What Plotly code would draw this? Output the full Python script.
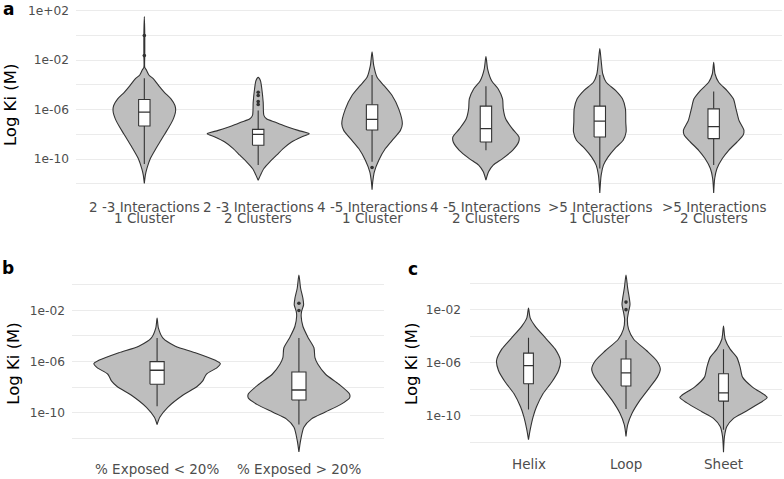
import numpy as np
import plotly.graph_objects as go

W, H = 784, 479

# ---------------- data (log10 Ki, violin half-widths in category units) ----------------
a_labels = ["2 -3 Interactions\n1 Cluster", "2 -3 Interactions\n2 Clusters",
            "4 -5 Interactions\n1 Cluster", "4 -5 Interactions\n2 Clusters",
            ">5 Interactions\n1 Cluster", ">5 Interactions\n2 Clusters"]
b_labels = ["% Exposed < 20%", "% Exposed > 20%"]
c_labels = ["Helix", "Loop", "Sheet"]

# violin profiles: log10(Ki) levels and half-width at each level
a1_log = [1.52, 0.0, -1.6, -2.58, -2.80, -3.20, -3.52, -4.06, -4.60, -5.13, -5.67, -6.07, -6.47, -6.87, -7.41, -7.95, -8.48, -9.15, -9.96, -10.76, -11.30, -11.97]
a1_hw = [0.0, 0.004, 0.004, 0.004, 0.018, 0.040, 0.080, 0.126, 0.176, 0.234, 0.269, 0.275, 0.266, 0.249, 0.217, 0.181, 0.146, 0.102, 0.053, 0.023, 0.009, 0.0]
a2_log = [-3.39, -3.66, -4.33, -5.40, -6.47, -6.74, -7.01, -7.33, -7.68, -7.95, -8.21, -8.62, -9.15, -9.69, -10.22, -10.76, -11.30, -11.72]
a2_hw = [0.0, 0.020, 0.032, 0.044, 0.050, 0.073, 0.146, 0.234, 0.351, 0.448, 0.380, 0.293, 0.219, 0.161, 0.102, 0.050, 0.020, 0.0]
a3_log = [-1.32, -2.45, -3.39, -4.06, -4.86, -5.94, -7.14, -7.68, -8.35, -9.15, -10.09, -11.03, -11.83, -12.48]
a3_hw = [0.0, 0.015, 0.044, 0.105, 0.176, 0.234, 0.266, 0.249, 0.190, 0.117, 0.059, 0.020, 0.006, 0.0]
a4_log = [-1.70, -2.72, -3.66, -4.33, -5.13, -5.94, -6.74, -7.54, -8.21, -8.62, -9.29, -9.96, -10.49, -11.03, -11.70]
a4_hw = [0.0, 0.015, 0.050, 0.108, 0.146, 0.152, 0.173, 0.231, 0.290, 0.287, 0.234, 0.146, 0.064, 0.023, 0.0]
a5_log = [-1.06, -2.05, -3.12, -3.79, -4.46, -5.13, -5.94, -7.01, -7.81, -8.48, -9.15, -9.82, -10.49, -11.30, -12.75]
a5_hw = [0.0, 0.012, 0.026, 0.056, 0.140, 0.199, 0.225, 0.228, 0.231, 0.205, 0.132, 0.073, 0.032, 0.012, 0.0]
a6_log = [-2.18, -3.12, -3.79, -4.46, -5.13, -5.94, -6.87, -7.68, -8.08, -8.62, -9.29, -9.96, -10.76, -11.57, -12.75]
a6_hw = [0.0, 0.012, 0.044, 0.117, 0.173, 0.196, 0.222, 0.266, 0.258, 0.205, 0.132, 0.076, 0.029, 0.009, 0.0]

b1_log = [-2.59, -3.37, -4.15, -4.80, -5.31, -5.91, -6.17, -6.48, -7.00, -7.52, -7.96, -8.68, -9.59, -10.37, -10.94]
b1_hw = [0.0, 0.009, 0.040, 0.129, 0.270, 0.411, 0.446, 0.423, 0.347, 0.322, 0.282, 0.176, 0.075, 0.019, 0.0]
b2_log = [0.78, -0.26, -1.04, -1.56, -2.07, -2.46, -3.24, -4.15, -4.92, -5.70, -6.22, -7.00, -7.78, -8.55, -8.86, -9.38, -9.98, -10.50, -11.15, -12.18, -13.09]
b2_hw = [0.0, 0.012, 0.028, 0.033, 0.019, 0.016, 0.028, 0.066, 0.106, 0.113, 0.134, 0.188, 0.282, 0.357, 0.357, 0.293, 0.183, 0.089, 0.035, 0.012, 0.0]

c1_log = [-1.86, -2.61, -3.23, -4.10, -4.97, -5.84, -6.58, -7.45, -8.32, -9.32, -10.06, -11.06, -11.80]
c1_hw = [0.0, 0.017, 0.068, 0.171, 0.274, 0.328, 0.308, 0.239, 0.150, 0.082, 0.048, 0.017, 0.0]
c2_log = [0.62, -0.37, -1.12, -1.61, -2.24, -2.73, -3.48, -4.22, -5.09, -5.84, -6.46, -7.08, -7.83, -8.82, -9.81, -10.68, -11.55]
c2_hw = [0.0, 0.017, 0.034, 0.041, 0.024, 0.014, 0.027, 0.079, 0.212, 0.315, 0.352, 0.321, 0.246, 0.144, 0.062, 0.017, 0.0]
c3_log = [-3.23, -4.22, -4.97, -5.59, -6.34, -7.08, -7.83, -8.45, -8.62, -9.02, -9.69, -10.19, -10.81, -11.55, -12.75]
c3_hw = [0.0, 0.017, 0.068, 0.137, 0.171, 0.195, 0.297, 0.427, 0.448, 0.376, 0.222, 0.103, 0.034, 0.010, 0.0]

# box statistics (log10): lower whisker, Q1, median, Q3, upper whisker
a_lo = [-10.4, -10.49, -10.22, -9.29, -10.76, -10.49]
a_q1 = [-7.33, -8.88, -7.65, -8.62, -8.21, -8.35]
a_med = [-6.20, -8.00, -6.79, -7.54, -6.93, -7.38]
a_q3 = [-5.18, -7.60, -5.61, -5.72, -5.72, -5.94]
a_hi = [-3.47, -6.07, -3.20, -4.11, -3.20, -4.54]
a_out = [[0.0, -1.63], [-4.59, -4.86, -5.35, -5.59], [-10.68], [], [], []]

b_lo = [-9.51, -10.94]
b_q1 = [-7.78, -9.02]
b_med = [-6.69, -8.24]
b_q3 = [-6.01, -6.82]
b_hi = [-4.15, -4.15]
b_out = [[], [-1.43, -2.0]]

c_lo = [-9.52, -9.49, -11.06]
c_q1 = [-7.58, -7.75, -8.89]
c_med = [-6.21, -6.76, -8.27]
c_q3 = [-5.27, -5.71, -6.83]
c_hi = [-4.10, -4.27, -4.97]
c_out = [[], [-1.42, -1.99], []]

y_ticks = [2, -2, -6, -10]
y_minor = [0, -4, -8, -12]

# ---------------- styling ----------------
VIOLIN_FILL = "#BEBEBE"
EDGE = "#333333"
GRID = "#EBEBEB"
TXT = "#4D4D4D"
FONT = "DejaVu Sans"
BOX_HALF = 0.05

fig = go.Figure()


def add_panel(profiles, lo, q1, med, q3, hi, outs, xa, ya):
    for i, (lg, hw) in enumerate(profiles):
        c = i + 1
        lg = np.asarray(lg, float)
        hw = np.asarray(hw, float)
        xs = np.concatenate([c + hw, (c - hw)[::-1]])
        ys = np.concatenate([10 ** lg, (10 ** lg)[::-1]])
        fig.add_trace(go.Scatter(x=xs, y=ys, mode="lines", fill="toself",
                                 fillcolor=VIOLIN_FILL,
                                 line=dict(color=EDGE, width=1.1, shape="spline", smoothing=0.7),
                                 xaxis=xa, yaxis=ya, hoverinfo="skip", showlegend=False))
    # boxplots (whiskers, box, median) built from the box statistics
    wx, wy = [], []
    for i in range(len(profiles)):
        c = i + 1
        wx += [c, c, None, c, c, None]
        wy += [10 ** hi[i], 10 ** q3[i], None, 10 ** q1[i], 10 ** lo[i], None]
    fig.add_trace(go.Scatter(x=wx, y=wy, mode="lines", line=dict(color=EDGE, width=1.1),
                             xaxis=xa, yaxis=ya, hoverinfo="skip", showlegend=False))
    for i in range(len(profiles)):
        c = i + 1
        l, r = c - BOX_HALF, c + BOX_HALF
        fig.add_trace(go.Scatter(x=[l, r, r, l, l],
                                 y=[10 ** q1[i], 10 ** q1[i], 10 ** q3[i], 10 ** q3[i], 10 ** q1[i]],
                                 mode="lines", fill="toself", fillcolor="white",
                                 line=dict(color=EDGE, width=1.1),
                                 xaxis=xa, yaxis=ya, hoverinfo="skip", showlegend=False))
        fig.add_trace(go.Scatter(x=[l, r], y=[10 ** med[i], 10 ** med[i]], mode="lines",
                                 line=dict(color=EDGE, width=1.4),
                                 xaxis=xa, yaxis=ya, hoverinfo="skip", showlegend=False))
    ox, oy = [], []
    for i, o in enumerate(outs):
        for v in o:
            ox.append(i + 1)
            oy.append(10 ** v)
    if ox:
        fig.add_trace(go.Scatter(x=ox, y=oy, mode="markers",
                                 marker=dict(color=EDGE, size=3.6),
                                 xaxis=xa, yaxis=ya, showlegend=False, hoverinfo="skip"))


add_panel([(a1_log, a1_hw), (a2_log, a2_hw), (a3_log, a3_hw), (a4_log, a4_hw), (a5_log, a5_hw), (a6_log, a6_hw)],
          a_lo, a_q1, a_med, a_q3, a_hi, a_out, "x", "y")
add_panel([(b1_log, b1_hw), (b2_log, b2_hw)], b_lo, b_q1, b_med, b_q3, b_hi, b_out, "x2", "y2")
add_panel([(c1_log, c1_hw), (c2_log, c2_hw), (c3_log, c3_hw)], c_lo, c_q1, c_med, c_q3, c_hi, c_out, "x3", "y3")


def px_x(p):
    return p / W


def px_y(p):
    return 1 - p / H


def yaxis(domain, rng, anchor, standoff, title_standoff):
    return dict(domain=domain, type="log", range=rng, anchor=anchor,
                tickvals=[10.0 ** t for t in y_ticks],
                ticktext=["1e+02" if t == 2 else "1e%03d" % t for t in y_ticks],
                tickfont=dict(family=FONT, size=12.2, color=TXT),
                ticks="", showline=False, zeroline=False,
                showgrid=True, gridcolor=GRID, gridwidth=1.1,
                minor=dict(tickvals=[10.0 ** t for t in y_minor], showgrid=True,
                           gridcolor=GRID, gridwidth=0.8, ticks=""),
                ticklabelstandoff=standoff,
                title=dict(text="Log Ki (M)", font=dict(family=FONT, size=16.5, color="black"),
                           standoff=title_standoff))


def xaxis(domain, n, anchor):
    return dict(domain=domain, range=[0.4, n + 0.6], anchor=anchor,
                tickvals=list(range(1, n + 1)), showticklabels=False,
                ticks="", showgrid=False, zeroline=False, showline=False)


layout = dict(width=W, height=H, margin=dict(l=0, r=0, t=0, b=0),
              paper_bgcolor="white", plot_bgcolor="white", showlegend=False,
              font=dict(family=FONT))
layout["xaxis"] = xaxis([px_x(76), px_x(782)], 6, "y")
layout["yaxis"] = yaxis([px_y(199.5), px_y(3.9)], [-13.46, 2.23], "x", 6, 7)
layout["xaxis2"] = xaxis([px_x(72), px_x(384)], 2, "y2")
layout["yaxis2"] = yaxis([px_y(460.6), px_y(264.4)], [-13.78, 1.47], "x2", 6, 6)
layout["xaxis3"] = xaxis([px_x(470), px_x(782)], 3, "y3")
layout["yaxis3"] = yaxis([px_y(461), px_y(264.4)], [-13.42, 1.29], "x3", 8, 4)

ann = []
XFONT = dict(family=FONT, size=13.5, color=TXT)
for i, lab in enumerate(a_labels):
    for j, line in enumerate(lab.split("\n")):
        ann.append(dict(x=i + 1, xref="x", y=px_y(205.2 + 10.6 * j), yref="paper",
                        text=line, showarrow=False, xanchor="center", yanchor="middle",
                        font=XFONT))
for i, lab in enumerate(b_labels):
    ann.append(dict(x=i + 1, xref="x2", y=px_y(469), yref="paper", text=lab,
                    showarrow=False, xanchor="center", yanchor="middle", font=XFONT))
for i, lab in enumerate(c_labels):
    ann.append(dict(x=i + 1, xref="x3", y=px_y(463.5), yref="paper", text=lab,
                    showarrow=False, xanchor="center", yanchor="middle", font=XFONT))
for txt, xp, yp in [("a", 1, 5), ("b", 0, 266.5), ("c", 406, 267)]:
    ann.append(dict(x=px_x(xp), xref="paper", y=px_y(yp), yref="paper", text="<b>%s</b>" % txt,
                    showarrow=False, xanchor="left", yanchor="middle",
                    font=dict(family=FONT, size=17, color="black")))
layout["annotations"] = ann

fig.update_layout(**layout)
fig.write_html("out.html", config={"displayModeBar": False},
               post_script="document.body.style.margin='0px';document.body.style.padding='0px';")
